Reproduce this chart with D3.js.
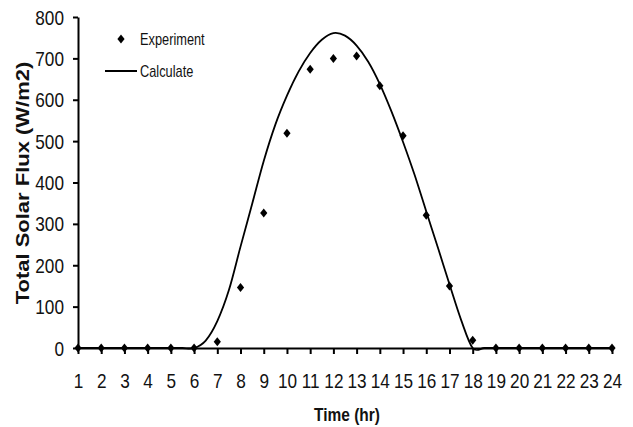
<!DOCTYPE html>
<html>
<head>
<meta charset="utf-8">
<script src="https://cdn.jsdelivr.net/npm/d3@7"></script>
<style>
  body { margin: 0; background: #fff; }
  text { font-family: "Liberation Sans", Arial, sans-serif; fill: #111; }
</style>
</head>
<body>
<div id="chart"></div>
<script>
// Values
const hours = [1, 2, 3, 4, 5, 6, 7, 8, 9, 10, 11, 12, 13, 14, 15, 16, 17, 18, 19, 20, 21, 22, 23, 24];
const experiment = [0, 0, 0, 0, 0, 0, 15, 146, 326, 519, 674, 700, 706, 634, 513, 321, 150, 19, 0, 0, 0, 0, 0, 0];

// calculated curve, read every half hour across the day-light part
const calcHours = [1, 2, 3, 4, 5, 5.5, 6, 6.5, 7, 7.5, 8, 8.5, 9, 9.5, 10, 10.5, 11, 11.5, 12,
  12.5, 13, 13.5, 14, 14.5, 15, 15.5, 16, 16.5, 17, 17.5, 18, 18.5, 19, 20, 21, 22, 23, 24];
const calculate = [0, 0, 0, 0, 0, 0, 0, 18, 65, 140, 245, 348, 452, 540, 610, 668, 713, 745, 761,
  755, 731, 692, 638, 572, 498, 418, 330, 243, 154, 68, 0, 0, 0, 0, 0, 0, 0, 0];

const yTicks = [0, 100, 200, 300, 400, 500, 600, 700, 800];
const seriesNames = ['Experiment', 'Calculate'];

const width = 633;
const height = 427;
const plot = { left: 78, right: 612, top: 17, bottom: 348 };

const svg = d3.select('#chart')
  .append('svg')
  .attr('width', width)
  .attr('height', height);

const x = d3.scaleLinear().domain([1, 24]).range([plot.left, plot.right]);
const y = d3.scaleLinear().domain([0, 800]).range([plot.bottom, plot.top]);

// Smoothed line like Excel's
const line = d3.line()
  .x((d, i) => x(calcHours[i]))
  .y(d => y(d))
  .curve(d3.curveCardinal.tension(0));

// Axes
const xAxis = svg.append('g')
  .attr('transform', `translate(0,${plot.bottom})`)
  .call(d3.axisBottom(x).tickValues(hours).tickSize(6).tickSizeOuter(0).tickPadding(0));

xAxis.selectAll('text')
  .attr('y', 0)
  .attr('dy', 0)
  .attr('font-size', 20)
  .attr('transform', 'translate(0,40) scale(0.86,1)');

const yAxis = svg.append('g')
  .attr('transform', `translate(${plot.left},0)`)
  .call(d3.axisLeft(y).tickValues(yTicks).tickSize(5).tickSizeOuter(0));

yAxis.selectAll('text')
  .attr('x', 0)
  .attr('dy', 0)
  .attr('font-size', 20)
  .attr('transform', 'translate(-14,7) scale(0.86,1)');

svg.selectAll('.domain, .tick line')
  .attr('stroke', '#000')
  .attr('stroke-width', 2);

svg.append('path')
  .datum(calculate)
  .attr('fill', 'none')
  .attr('stroke', '#000')
  .attr('stroke-width', 1.8)
  .attr('d', line);

// Experiment markers
const diamond = 'M0,-4.5L3.6,0L0,4.5L-3.6,0Z';
svg.append('g')
  .selectAll('path')
  .data(experiment)
  .enter()
  .append('path')
  .attr('d', diamond)
  .attr('fill', '#000')
  .attr('transform', (d, i) => `translate(${x(hours[i])},${y(d)})`);

// Axis titles
svg.append('text')
  .attr('transform', 'translate(29,183) rotate(-90) scale(1,0.8)')
  .attr('text-anchor', 'middle')
  .attr('font-weight', 'bold')
  .attr('font-size', 22)
  .text('Total Solar Flux (W/m2)');

svg.append('text')
  .attr('transform', 'translate(347,421) scale(0.86,1)')
  .attr('text-anchor', 'middle')
  .attr('font-weight', 'bold')
  .attr('font-size', 18)
  .text('Time (hr)');

// Legend
const legend = svg.append('g');
legend.append('path')
  .attr('d', diamond)
  .attr('fill', '#000')
  .attr('transform', 'translate(121,39)');
legend.append('line')
  .attr('x1', 105).attr('x2', 137)
  .attr('y1', 71).attr('y2', 71)
  .attr('stroke', '#000')
  .attr('stroke-width', 2);
legend.selectAll('text.leg')
  .data(seriesNames)
  .enter()
  .append('text')
  .attr('class', 'leg')
  .attr('font-size', 16)
  .attr('transform', (d, i) => `translate(140,${45 + i * 32}) scale(0.8,1)`)
  .text(d => d);
</script>
</body>
</html>
